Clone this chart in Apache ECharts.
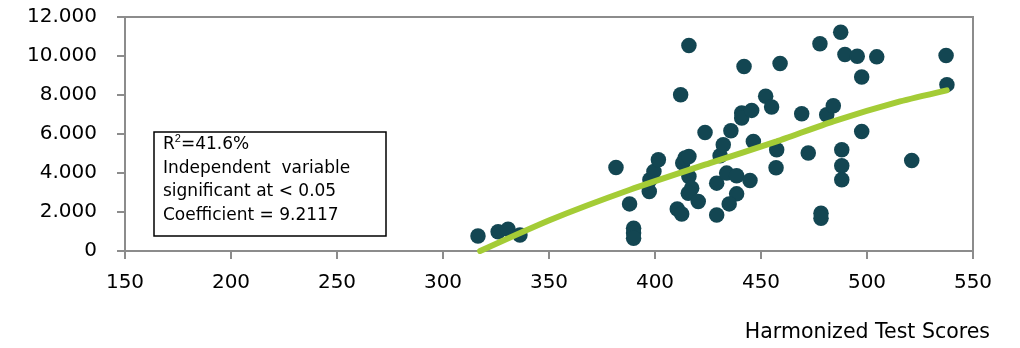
<!DOCTYPE html>
<html>
<head>
<meta charset="utf-8">
<script src="https://cdn.jsdelivr.net/npm/echarts@6/dist/echarts.min.js"></script>
<style>html,body{margin:0;padding:0;background:#fff}#c{width:1020px;height:348px}</style>
</head>
<body>
<div id="c"></div>
<script>
// Scatter data
var scoreX = [316.5,326.0,330.7,336.3,381.6,388.0,389.9,389.9,389.9,397.3,397.6,399.5,401.6,412.1,416.0,410.5,412.6,413.1,414.2,416.0,416.0,417.3,415.7,420.4,423.6,429.1,429.1,430.7,432.2,433.8,438.5,435.8,438.5,435.0,444.8,440.9,440.9,445.6,442.0,446.4,452.2,455.0,457.4,457.1,459.0,469.2,472.3,477.8,478.3,478.3,481.0,484.1,487.6,488.1,488.1,488.1,489.6,495.4,497.5,497.5,504.6,521.1,537.3,537.7];
var valueY = [771,992,1115,822,4282,2416,1167,925,653,3048,3649,4076,4677,8018,10537,2159,1902,4508,4765,4847,3819,3223,2966,2534,6081,3480,1850,4883,5448,3994,3855,6168,2930,2416,3613,7078,6821,7211,9458,5618,7931,7386,5191,4266,9612,7042,5022,10624,1938,1681,6990,7453,11221,5191,4369,3649,10074,9987,8928,6132,9956,4641,10023,8532];
// Trend line points
var trendX = [317.5,350.5,388.2,425.9,457.4,484.1,515.6,537.6];
var trendY = [0,1590,3140,4510,5620,6650,7670,8240];
var xTicks = [150,200,250,300,350,400,450,500,550];
var yTicks = [0,2000,4000,6000,8000,10000,12000];
var boxLines = ["R{sup|2}=41.6%","Independent  variable","significant at < 0.05","Coefficient = 9.2117"];
var xTitle = "Harmonized Test Scores";

var pts = scoreX.map(function(x,i){return [x,valueY[i]];});
var trend = trendX.map(function(x,i){return [x,trendY[i]];});
var font = "DejaVu Sans";
var chart = echarts.init(document.getElementById('c'));
chart.setOption({
  animation:false,
  grid:{left:125,right:47,top:17,bottom:97,show:true,borderColor:'#8c8c8c',borderWidth:2,backgroundColor:'transparent'},
  xAxis:{type:'value',min:xTicks[0],max:xTicks[xTicks.length-1],interval:50,
    axisLine:{show:true,lineStyle:{color:'#8c8c8c',width:2}},
    axisTick:{show:true,length:8,lineStyle:{color:'#8c8c8c',width:2}},
    splitLine:{show:false},
    axisLabel:{color:'#000',fontFamily:font,fontSize:20,margin:22}},
  yAxis:{type:'value',min:yTicks[0],max:yTicks[yTicks.length-1],interval:2000,
    axisLine:{show:true,lineStyle:{color:'#8c8c8c',width:2}},
    axisTick:{show:true,length:8,lineStyle:{color:'#8c8c8c',width:2}},
    splitLine:{show:false},
    axisLabel:{color:'#000',fontFamily:font,fontSize:20,margin:28,
      formatter:function(v){return v===0?'0':String(v).replace(/\B(?=(\d{3})+(?!\d))/g,'.');}}},
  series:[
    {type:'scatter',data:pts,symbolSize:15.5,itemStyle:{color:'#134652',opacity:1},z:3},
    {type:'line',data:trend,smooth:0.2,symbol:'none',clip:true,lineStyle:{color:'#a4cc36',width:6,cap:'round'},z:4}
  ],
  graphic:[
    {type:'rect',shape:{x:154,y:132,width:232,height:104},style:{fill:'#fff',stroke:'#000',lineWidth:1.5},z:10},
    {type:'text',x:163,y:133,z:11,style:{text:boxLines.join('\n'),fontFamily:font,fontSize:17,lineHeight:23.5,fill:'#000',
      rich:{sup:{fontSize:11,verticalAlign:'top',lineHeight:23.5,padding:[0,0,8,0]}}}},
    {type:'text',x:990,y:333,z:11,style:{text:xTitle,fontFamily:font,fontSize:20.5,fill:'#000',align:'right',verticalAlign:'middle'}}
  ]
});
</script>
</body>
</html>
